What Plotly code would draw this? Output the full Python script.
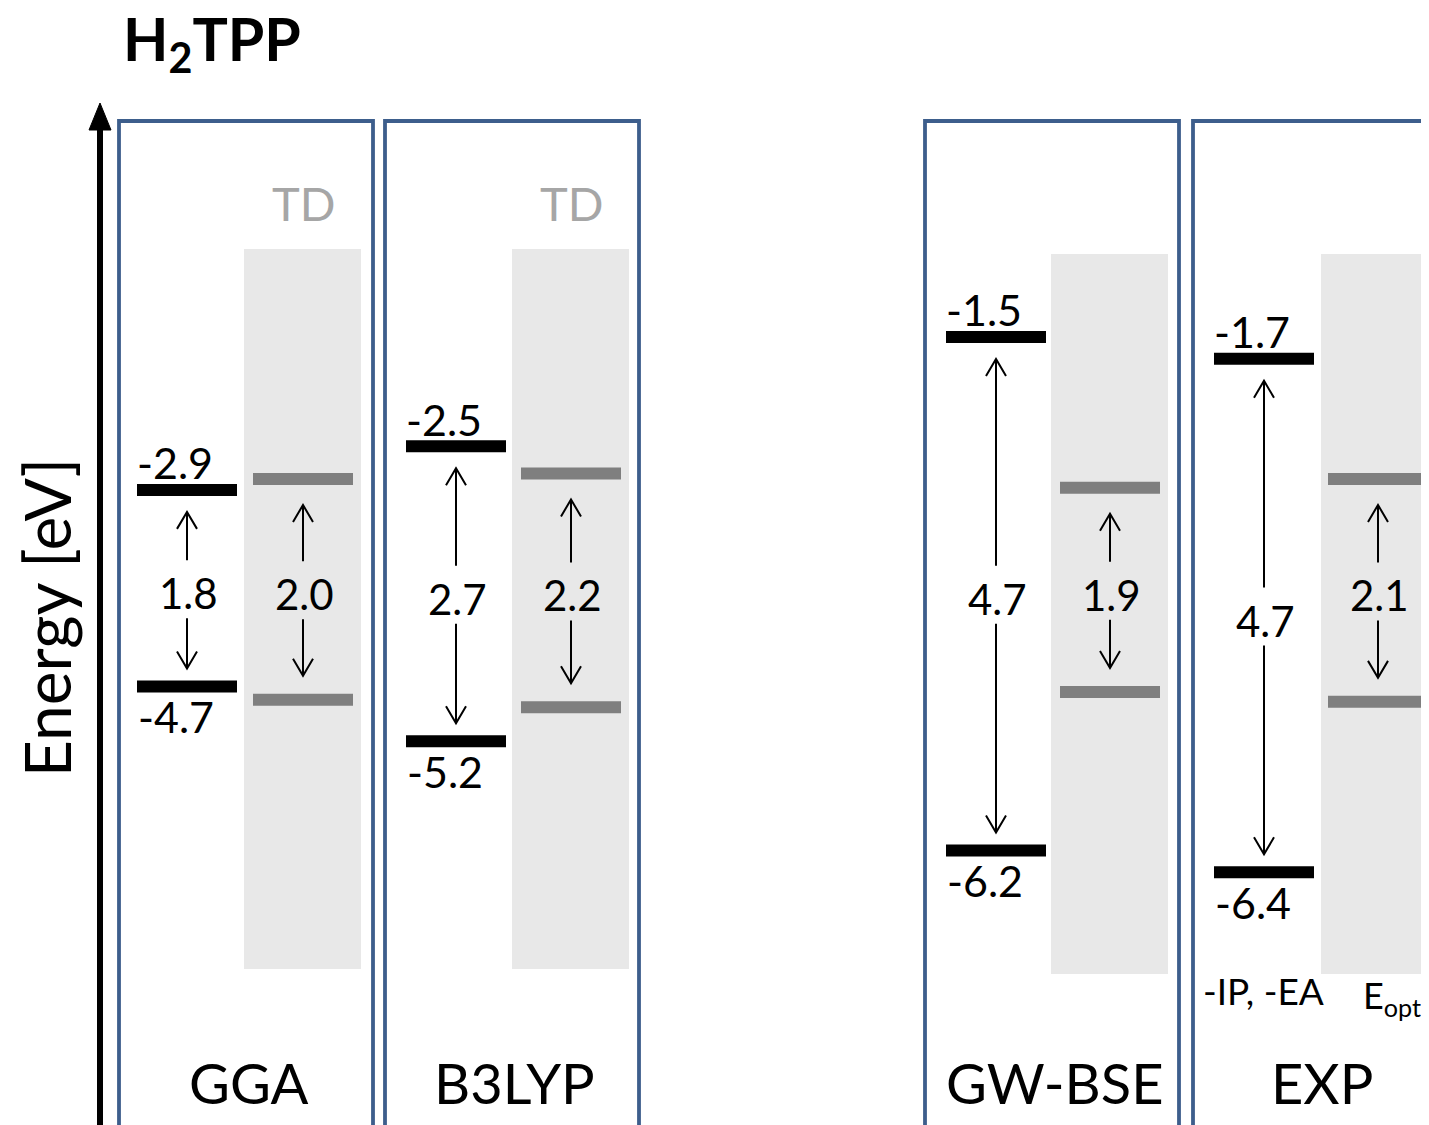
import plotly.graph_objects as go

# ---------------- data ----------------
methods = ["GGA", "B3LYP", "GW-BSE", "EXP"]
lumo = [-2.9, -2.5, -1.5, -1.7]          # -EA (black upper levels)
homo = [-4.7, -5.2, -6.2, -6.4]          # -IP (black lower levels)
fund_gap = ["1.8", "2.7", "4.7", "4.7"]
td_upper = [-2.80, -2.75, -2.88, -2.80]  # grey (optical) levels
td_lower = [-4.82, -4.89, -4.75, -4.84]
opt_gap = ["2.0", "2.2", "1.9", "2.1"]
td_flag = [True, True, False, False]

# ---------------- geometry helpers ----------------
W, H = 1429, 1125
OFF = 8  # page body margin
PX_PER_EV = 109.27
Y0 = 173.0
def ev(p):   # page pixel row -> energy value on the y axis
    return (Y0 - p) / PX_PER_EV
def py(e):
    return Y0 - PX_PER_EV * e

FONT = "Lato, 'Open Sans', sans-serif"
panel_left = [119, 385, 925, 1193]
panel_w = 254
shade_left = [244, 512, 1051, 1321]
shade_top = [249, 249, 254, 254]
shade_bot = [969, 969, 974, 974]
shade_w = 117
black_left = [137, 406, 946, 1214]
grey_left = [253, 521, 1060, 1328]
bar_w = 100
bar_h = 12
panel_col = "#3D5E8C"

fig = go.Figure()
shapes = []
ann = []

for i, m in enumerate(methods):
    shapes.append(dict(type="rect", xref="x", yref="y", x0=panel_left[i], x1=panel_left[i] + panel_w,
                       y0=ev(121), y1=ev(1160), line=dict(color=panel_col, width=3.8),
                       fillcolor="rgba(0,0,0,0)", layer="above"))
    shapes.append(dict(type="rect", xref="x", yref="y", x0=shade_left[i], x1=shade_left[i] + shade_w,
                       y0=ev(shade_bot[i]), y1=ev(shade_top[i]), line=dict(width=0),
                       fillcolor="#E8E8E8", layer="below"))
    for e in (lumo[i], homo[i]):
        shapes.append(dict(type="rect", xref="x", yref="y", x0=black_left[i], x1=black_left[i] + bar_w,
                           y0=e - bar_h / 2 / PX_PER_EV, y1=e + bar_h / 2 / PX_PER_EV,
                           line=dict(width=0), fillcolor="black", layer="above"))
    for e in (td_upper[i], td_lower[i]):
        shapes.append(dict(type="rect", xref="x", yref="y", x0=grey_left[i], x1=grey_left[i] + bar_w,
                           y0=e - bar_h / 2 / PX_PER_EV, y1=e + bar_h / 2 / PX_PER_EV,
                           line=dict(width=0), fillcolor="#7F7F7F", layer="above"))

    ann.append(dict(x=black_left[i] - 2, y=ev(py(lumo[i]) - 27), text=f"{lumo[i]:.1f}", xanchor="left",
                    yanchor="middle", font=dict(size=43, color="black", family=FONT)))
    ann.append(dict(x=black_left[i] - 1, y=ev(py(homo[i]) + 30), text=f"{homo[i]:.1f}", xanchor="left",
                    yanchor="middle", font=dict(size=43, color="black", family=FONT)))

    for (xc, up_e, lo_e, lab, gap_up, gap_dn) in (
            (black_left[i] + bar_w / 2, lumo[i], homo[i], fund_gap[i], 16, 12),
            (grey_left[i] + bar_w / 2, td_upper[i], td_lower[i], opt_gap[i], 20, 18)):
        p_up = py(up_e) + bar_h / 2 + gap_up
        p_dn = py(lo_e) - bar_h / 2 - gap_dn
        mid = (py(up_e) + py(lo_e)) / 2
        xs, ys = [], []
        xs += [xc, xc, None, xc - 10, xc, xc + 10, None]
        ys += [ev(mid - 28), ev(p_up), None, ev(p_up + 17), ev(p_up), ev(p_up + 17), None]
        xs += [xc, xc, None, xc - 10, xc, xc + 10, None]
        ys += [ev(mid + 30), ev(p_dn), None, ev(p_dn - 17), ev(p_dn), ev(p_dn - 17), None]
        fig.add_trace(go.Scatter(x=xs, y=ys, mode="lines", line=dict(color="black", width=2),
                                 hoverinfo="skip", showlegend=False))
        ann.append(dict(x=xc + 1, y=ev(mid + 5), text=lab, xanchor="center", yanchor="middle",
                        font=dict(size=42, color="black", family=FONT)))

    ann.append(dict(x=panel_left[i] + panel_w / 2 + 2, y=ev(1082), text=m, xanchor="center",
                    yanchor="middle", font=dict(size=56, color="black", family=FONT)))
    if td_flag[i]:
        ann.append(dict(x=shade_left[i] + shade_w / 2 + 1, y=ev(203), text="TD", xanchor="center",
                        yanchor="middle", font=dict(size=47, color="#A6A6A6", family=FONT)))

ann.append(dict(x=1263, y=ev(990), text="-IP, -EA", xanchor="center", yanchor="middle",
                font=dict(size=37, color="black", family=FONT)))
ann.append(dict(x=1361, y=ev(997), text="E<sub>opt</sub>", xanchor="left", yanchor="middle",
                font=dict(size=36, color="black", family=FONT)))

fig.add_trace(go.Scatter(x=[100, 100], y=[ev(1130), ev(125)], mode="lines",
                         line=dict(color="black", width=6), hoverinfo="skip", showlegend=False))
fig.add_trace(go.Scatter(x=[100, 89, 111, 100], y=[ev(103), ev(130), ev(130), ev(103)], mode="lines",
                         fill="toself", fillcolor="black", line=dict(color="black", width=1),
                         hoverinfo="skip", showlegend=False))
ann.append(dict(x=46, y=ev(618), text="Energy [eV]", textangle=-90, xanchor="center", yanchor="middle",
                font=dict(size=64, color="black", family=FONT)))

ann.append(dict(x=121, y=ev(42), text="<b>H<sub>2</sub>TPP</b>", xanchor="left", yanchor="middle",
                font=dict(size=59, color="black", family=FONT)))

for a in ann:
    a.update(xref="x", yref="y", showarrow=False)

fig.update_layout(
    width=W - OFF, height=H - OFF, margin=dict(l=0, r=0, t=0, b=0),
    paper_bgcolor="white", plot_bgcolor="white", showlegend=False,
    xaxis=dict(range=[OFF, W], visible=False, fixedrange=True),
    yaxis=dict(range=[ev(H), ev(OFF)], visible=False, fixedrange=True),
    shapes=shapes, annotations=ann,
)
fig.write_html("out.html")
